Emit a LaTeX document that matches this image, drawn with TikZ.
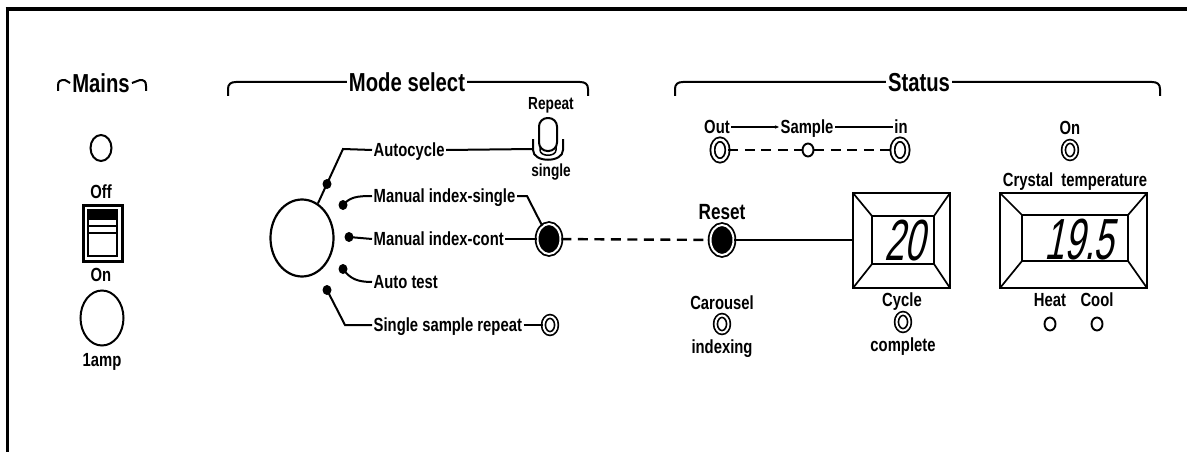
\documentclass[tikz,border=0pt]{standalone}
\usepackage{fontspec}
\setmainfont{Liberation Sans}[FakeStretch=0.78]
\newfontfamily\segfont{Liberation Sans}[FakeStretch=0.62,FakeSlant=0.2]
\usetikzlibrary{shapes.geometric,arrows.meta}
\begin{document}
\begin{tikzpicture}[x=1pt,y=-1pt,
  lab/.style={inner sep=1.5pt,text height=13.6pt,text depth=0pt,font=\fontsize{19}{20}\selectfont\bfseries},
  head/.style={inner sep=2pt,text height=18.5pt,text depth=0pt,font=\fontsize{26}{28}\selectfont\bfseries},
  lead/.style={line width=2pt},
  dashln/.style={line width=2.4pt,dash pattern=on 10pt off 6.5pt},
  ringd/.style={ellipse,draw,line width=1.8pt,double=white,double distance=2.4pt,minimum width=15pt,minimum height=21pt,inner sep=0pt},
  rings/.style={ellipse,draw,line width=1.7pt,double=white,double distance=2pt,minimum width=13pt,minimum height=17pt,inner sep=0pt},
  ring/.style={ellipse,draw,line width=1.9pt,minimum width=11pt,minimum height=13pt,inner sep=0pt},
  btn/.style={ellipse,draw,fill=black,line width=1.8pt,double=white,double distance=2pt,minimum width=23pt,minimum height=30pt,inner sep=0pt},
  dot/.style={ellipse,fill=black,minimum width=9pt,minimum height=10pt,inner sep=0pt},
  lamp/.style={ellipse,draw,line width=2pt,inner sep=0pt},
  thick2/.style={line width=2.8pt},
  thin2/.style={line width=1.7pt}
]
\useasboundingbox (0,0) rectangle (1187,452);
% frame
\draw[line width=4pt] (5.5,9) -- (1187,9);
\draw[line width=3pt] (7.5,9) -- (7.5,452);

% ---------------- Mains ----------------
\node[head] (mains) at (101,83) {Mains};
\draw[lead] (58,91) -- (58,86) .. controls (58,81) and (60,80) .. (65,80) -- (mains.west);
\draw[lead] (mains.east) -- (140,80) .. controls (144,80) and (146,81) .. (146,86) -- (146,91);
\node[lamp,minimum width=21pt,minimum height=26pt] (mlamp) at (101,148) {};
\node[lab] (off) at (101,192) {Off};
\draw[line width=3pt] (83,205) rectangle (122,261);
\draw[thin2] (88,210) rectangle (117,256);
\fill (88,210) rectangle (117,220);
\draw[line width=1.2pt] (88,226) -- (117,226);
\draw[thin2] (88,233) -- (117,233);
\node[lab] (on) at (101,275) {On};
\node[lamp,minimum width=43pt,minimum height=55pt] (fuse) at (102,318) {};
\node[lab] (amp) at (102,360) {1amp};

% ---------------- Mode select ----------------
\node[head] (mode) at (407,82) {Mode select};
\draw[lead] (228,96) -- (228,89) .. controls (228,84) and (231,82) .. (236,82) -- (mode.west);
\draw[lead] (mode.east) -- (580,82) .. controls (585,82) and (588,84) .. (588,89) -- (588,96);

\node[ellipse,draw,line width=2.2pt,minimum width=63pt,minimum height=77pt,inner sep=0pt] (knob) at (302,238) {};

\node[lab,anchor=west] (l1) at (372,150) {Autocycle};
\node[lab,anchor=west] (l2) at (372,196) {Manual index-single};
\node[lab,anchor=west] (l3) at (372,239) {Manual index-cont};
\node[lab,anchor=west] (l4) at (372,282) {Auto test};
\node[lab,anchor=west] (l5) at (372,325) {Single sample repeat};

\coordinate (c1) at (343,149);
\coordinate (c5) at (345,325);
\draw[lead] (knob) -- (c1) -- (l1.west);
\node[dot] (d1) at (327,184) {};
\node[dot] (d2) at (343,205) {};
\node[dot] (d3) at (349,237) {};
\node[dot] (d4) at (343,269) {};
\node[dot] (d5) at (327,290) {};
\draw[lead] (d2.center) .. controls (350,197) and (357,196) .. (l2.west);
\draw[lead] (d3.center) -- (l3.west);
\draw[lead] (d4.center) .. controls (350,279) and (358,282) .. (l4.west);
\draw[lead] (d5.center) -- (c5) -- (l5.west);

% toggle switch
\node[lab,font=\fontsize{17.5}{18}\selectfont\bfseries] (rep) at (551,103) {Repeat};
\node[lab,font=\fontsize{17.5}{18}\selectfont\bfseries] (sgl) at (551,170) {single};
\coordinate (sw) at (533,149);
\draw[lead] (533,139) -- (533,150) .. controls (533,163) and (563,163) .. (563,150) -- (563,139);
\draw[line width=1.5pt] (540,144) -- (540,150) .. controls (540,157) and (556,157) .. (556,150) -- (556,144);
\draw[lead,fill=white,rounded corners=8.5pt] (539,151) rectangle (557,118);
\draw[lead] (l1.east) -- (sw);

% buttons
\node[btn] (mbtn) at (549,239) {};
\coordinate (k2) at (527,196);
\draw[lead] (l2.east) -- (k2) -- (mbtn);
\draw[lead] (l3.east) -- (mbtn);
\node[rings] (ssr) at (550,325) {};
\draw[lead] (l5.east) -- (ssr);

% ---------------- Status ----------------
\node[head] (status) at (919,82) {Status};
\draw[lead] (675,96) -- (675,89) .. controls (675,84) and (678,82) .. (683,82) -- (status.west);
\draw[lead] (status.east) -- (1152,82) .. controls (1157,82) and (1160,84) .. (1160,89) -- (1160,96);

\node[lab] (out) at (717,127) {Out};
\node[lab] (smp) at (807,127) {Sample};
\node[lab] (in) at (901,127) {in};
\draw[thin2,-{Stealth[length=4pt,width=3.5pt]}] (out.east) -- (smp.west);
\draw[thin2] (smp.east) -- (in.west);
\node[ringd] (outr) at (720,150) {};
\node[ring] (smpr) at (808,150) {};
\node[ringd] (inr) at (900,150) {};
\draw[dashln] (outr) -- (smpr);
\draw[dashln] (smpr) -- (inr);

\node[lab,text height=15.5pt,font=\fontsize{22}{23}\selectfont\bfseries] (reset) at (722,212) {Reset};
\node[btn] (rbtn) at (722,240) {};
\draw[dashln] (mbtn) -- (rbtn);

% display 1
\coordinate (a1) at (853,193); \coordinate (a2) at (950,193);
\coordinate (a3) at (950,288); \coordinate (a4) at (853,288);
\coordinate (b1) at (872,216); \coordinate (b2) at (934,216);
\coordinate (b3) at (934,264); \coordinate (b4) at (872,264);
\draw[thick2] (a1) rectangle (a3);
\draw[thin2] (b1) rectangle (b3);
\draw[thin2] (a1) -- (b1) (a2) -- (b2) (a3) -- (b3) (a4) -- (b4);
\node[inner sep=0pt,font=\segfont\fontsize{58}{58}\selectfont] (cnt) at (904,241) {20};
\coordinate (d1w) at (853,240);
\draw[thin2] (rbtn) -- (d1w);

\node[lab] (car) at (722,303) {Carousel};
\node[rings] (carr) at (722,324) {};
\node[lab] (idx) at (722,347) {indexing};
\node[lab] (cyc) at (902,300) {Cycle};
\node[rings] (cycr) at (903,322) {};
\node[lab] (cmp) at (903,345) {complete};

% crystal temperature
\node[lab] (ton) at (1070,128) {On};
\node[rings] (tonr) at (1070,150) {};
\node[lab] (cryst) at (1075,180) {Crystal\ \ temperature};
\coordinate (e1) at (1000,193); \coordinate (e2) at (1147,193);
\coordinate (e3) at (1147,288); \coordinate (e4) at (1000,288);
\coordinate (f1) at (1022,215); \coordinate (f2) at (1128,215);
\coordinate (f3) at (1128,261); \coordinate (f4) at (1022,261);
\draw[thick2] (e1) rectangle (e3);
\draw[thin2] (f1) rectangle (f3);
\draw[thin2] (e1) -- (f1) (e2) -- (f2) (e3) -- (f3) (e4) -- (f4);
\node[inner sep=0pt,font=\segfont\fontsize{58}{58}\selectfont] (temp) at (1079,240) {19.5};
\node[lab] (heat) at (1050,300) {Heat};
\node[lab] (cool) at (1097,300) {Cool};
\node[ring] (heatr) at (1050,324) {};
\node[ring] (coolr) at (1097,324) {};
\end{tikzpicture}
\end{document}
